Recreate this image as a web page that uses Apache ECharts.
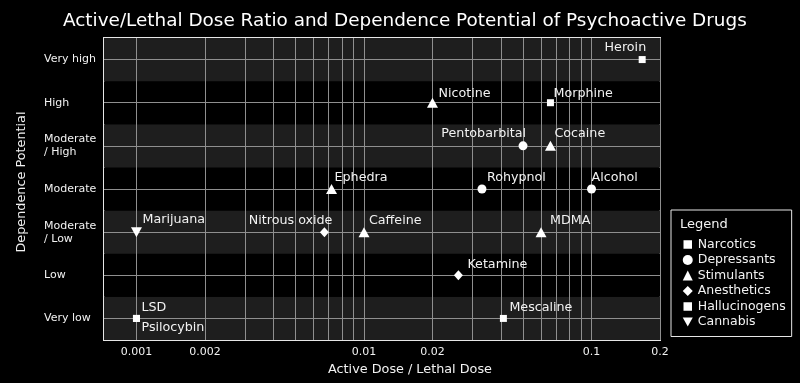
<!DOCTYPE html>
<html>
<head>
<meta charset="utf-8">
<script src="https://cdn.jsdelivr.net/npm/echarts@6/dist/echarts.min.js"></script>
<style>html,body{margin:0;padding:0;background:#000;}#c{width:800px;height:383px;}</style>
</head>
<body>
<div id="c"></div>
<script>
// ---- data ----
const levels = ['Very low', 'Low', 'Moderate\n/ Low', 'Moderate', 'Moderate\n/ High', 'High', 'Very high'];
const tickValues = [0.001, 0.002, 0.01, 0.02, 0.1, 0.2];
const tickLabels = ['0.001', '0.002', '0.01', '0.02', '0.1', '0.2'];
const gridValues = [0.001,0.002,0.003,0.004,0.005,0.006,0.007,0.008,0.009,
                    0.01,0.02,0.03,0.04,0.05,0.06,0.07,0.08,0.09,0.1,0.2];

const narcoticsNames = ['Heroin', 'Morphine'];
const narcoticsRatio = [0.167, 0.066];
const narcoticsLevel = ['Very high', 'High'];

const depressantsNames = ['Pentobarbital', 'Rohypnol', 'Alcohol'];
const depressantsRatio = [0.05, 0.033, 0.1];
const depressantsLevel = ['Moderate\n/ High', 'Moderate', 'Moderate'];

const stimulantsNames = ['Nicotine', 'Cocaine', 'Ephedra', 'Caffeine', 'MDMA'];
const stimulantsRatio = [0.02, 0.066, 0.0072, 0.01, 0.06];
const stimulantsLevel = ['High', 'Moderate\n/ High', 'Moderate', 'Moderate\n/ Low', 'Moderate\n/ Low'];

const anestheticsNames = ['Nitrous oxide', 'Ketamine'];
const anestheticsRatio = [0.0067, 0.026];
const anestheticsLevel = ['Moderate\n/ Low', 'Low'];

const hallucinogensNames = ['LSD', 'Psilocybin', 'Mescaline'];
const hallucinogensRatio = [0.001, 0.001, 0.041];
const hallucinogensLevel = ['Very low', 'Very low', 'Very low'];

const cannabisNames = ['Marijuana'];
const cannabisRatio = [0.001];
const cannabisLevel = ['Moderate\n/ Low'];

// ---- label placement (style) ----
const labelPlace = {
  'Heroin': ['right', 4, -12],
  'Morphine': ['left', 3, -9],
  'Nicotine': ['left', 6, -9],
  'Pentobarbital': ['right', 3, -12],
  'Cocaine': ['left', 4, -12],
  'Ephedra': ['left', 3, -11],
  'Rohypnol': ['left', 5, -11],
  'Alcohol': ['left', 0, -11],
  'Marijuana': ['left', 6, -12],
  'Nitrous oxide': ['right', 8, -11],
  'Caffeine': ['left', 5, -11],
  'MDMA': ['left', 9, -11],
  'Ketamine': ['left', 9, -11],
  'Mescaline': ['left', 6, -11],
  'LSD': ['left', 5, -11],
  'Psilocybin': ['left', 5, 9]
};

const FONT = 'DejaVu Sans';
const TXT = '#f2f2f2';

function makeData(names, ratios, lvls) {
  return names.map((n, i) => {
    const p = labelPlace[n];
    return {
      name: n,
      value: [ratios[i], lvls[i]],
      label: {
        show: true, formatter: n, position: 'inside',
        align: p[0], verticalAlign: 'middle', offset: [p[1], p[2]],
        color: TXT, fontSize: 12.7, fontFamily: FONT, textBorderWidth: 0
      }
    };
  });
}

function scatter(name, names, ratios, lvls, symbol, size, extra) {
  return Object.assign({
    name: name, type: 'scatter', symbol: symbol, symbolSize: size,
    itemStyle: { color: '#ffffff', opacity: 1 },
    data: makeData(names, ratios, lvls), z: 5
  }, extra || {});
}

const series = [
  scatter('Narcotics', narcoticsNames, narcoticsRatio, narcoticsLevel, 'rect', 7, {
    markLine: {
      silent: true, symbol: 'none', animation: false,
      label: { show: false },
      lineStyle: { color: '#8f8f8f', width: 1, type: 'solid' },
      data: levels.map(l => ({ yAxis: l }))
    }
  }),
  scatter('Depressants', depressantsNames, depressantsRatio, depressantsLevel, 'circle', 9),
  scatter('Stimulants', stimulantsNames, stimulantsRatio, stimulantsLevel, 'triangle', [11, 10]),
  scatter('Anesthetics', anestheticsNames, anestheticsRatio, anestheticsLevel, 'diamond', [9, 10]),
  scatter('Hallucinogens', hallucinogensNames, hallucinogensRatio, hallucinogensLevel, 'rect', 7),
  scatter('Cannabis', cannabisNames, cannabisRatio, cannabisLevel, 'triangle', [11, 10], { symbolRotate: 180 })
];

const smallSquare = { borderColor: '#000', borderWidth: 1.5 };
const chart = echarts.init(document.getElementById('c'), null, { renderer: 'canvas' });
chart.setOption({
  backgroundColor: '#000000',
  animation: false,
  textStyle: { fontFamily: FONT },
  title: [
    { text: 'Active/Lethal Dose Ratio and Dependence Potential of Psychoactive Drugs',
      left: 58, top: 7, textStyle: { color: '#ffffff', fontSize: 18.4, fontWeight: 'normal', fontFamily: FONT } },
    { text: 'Legend', left: 675, top: 213, textStyle: { color: TXT, fontSize: 13, fontWeight: 'normal', fontFamily: FONT } }
  ],
  grid: { left: 104, right: 140, top: 38, bottom: 43, show: true, borderColor: '#e6e6e6', borderWidth: 2, backgroundColor: 'transparent' },
  xAxis: {
    type: 'log', logBase: 10, min: 0.00072, max: 0.2,
    name: 'Active Dose / Lethal Dose', nameLocation: 'middle', nameGap: 21,
    nameTextStyle: { color: TXT, fontSize: 12.8, fontFamily: FONT, padding: [0, 0, 0, 56] },
    axisLine: { show: false },
    axisTick: { show: false, customValues: gridValues },
    axisLabel: {
      customValues: tickValues, color: TXT, fontSize: 11, fontFamily: FONT, margin: 7,
      formatter: v => { let best = 0; tickValues.forEach((t, i) => { if (Math.abs(Math.log10(t) - Math.log10(v)) < Math.abs(Math.log10(tickValues[best]) - Math.log10(v))) best = i; }); return tickLabels[best]; }
    },
    splitLine: { show: true, lineStyle: { color: '#8f8f8f', width: 1 } }
  },
  yAxis: {
    type: 'category', data: levels, boundaryGap: true,
    name: 'Dependence Potential', nameLocation: 'middle', nameGap: 76,
    nameTextStyle: { color: TXT, fontSize: 12.8, fontFamily: FONT, padding: [0, 0, 0, 14] },
    axisLine: { show: false }, axisTick: { show: false },
    axisLabel: { color: TXT, fontSize: 11, fontFamily: FONT, align: 'left', margin: 60, lineHeight: 13 },
    splitLine: { show: false },
    splitArea: { show: true, areaStyle: { color: ['#1e1e1e', '#000000'] } }
  },
  legend: {
    orient: 'vertical', left: 671, top: 210,
    padding: [28, 6, 8, 11], itemGap: 2.5, itemWidth: 10, itemHeight: 10,
    borderColor: '#e6e6e6', borderWidth: 1, backgroundColor: '#000',
    textStyle: { color: TXT, fontSize: 12.5, fontFamily: FONT },
    data: [
      { name: 'Narcotics', itemStyle: smallSquare },
      { name: 'Depressants' },
      { name: 'Stimulants' },
      { name: 'Anesthetics' },
      { name: 'Hallucinogens', itemStyle: smallSquare },
      { name: 'Cannabis', icon: 'path://M0,0 L11,0 L5.5,10 Z' }
    ]
  },
  series: series
});
</script>
</body>
</html>
